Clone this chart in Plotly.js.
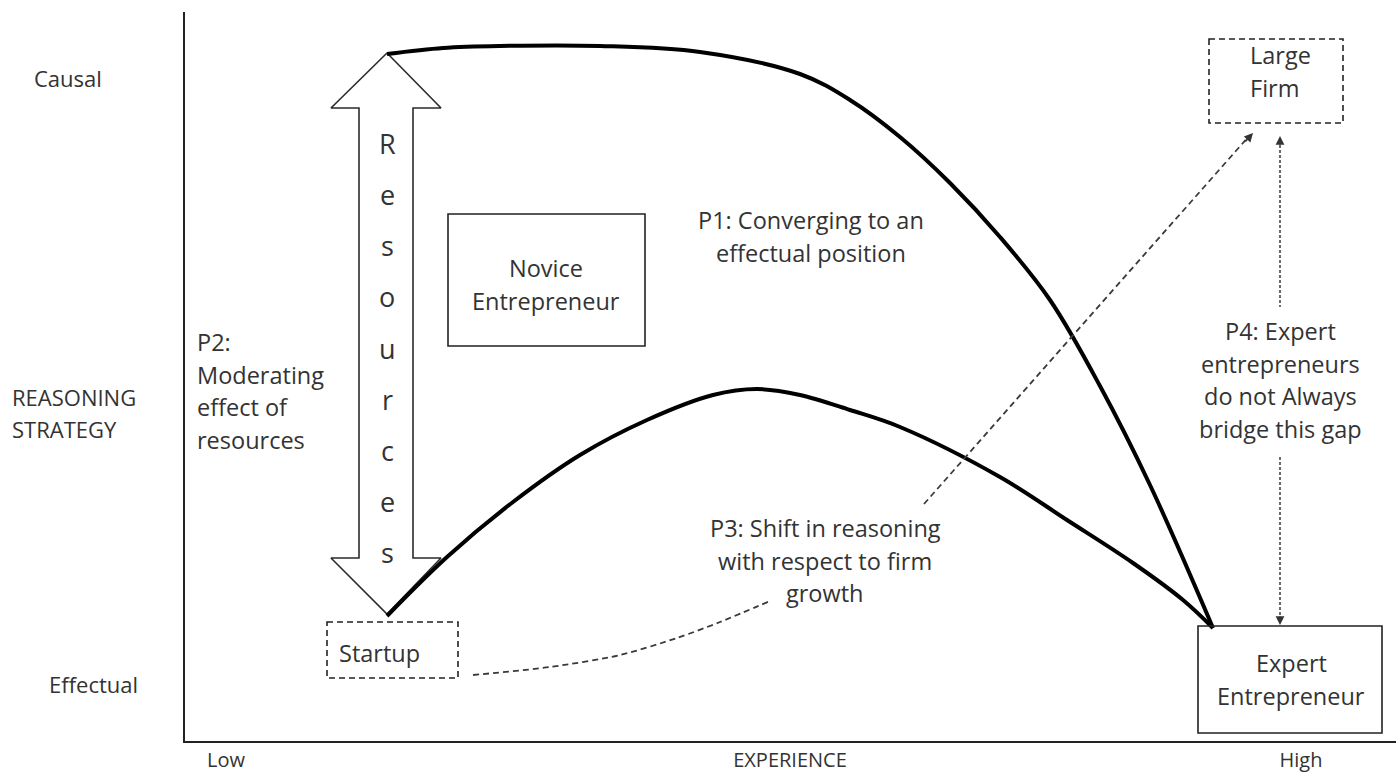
<!DOCTYPE html>
<html>
<head>
<meta charset="utf-8">
<script src="https://cdn.plot.ly/plotly-3.0.1.min.js"></script>
<style>html,body{margin:0;padding:0;background:#fff;}#chart{width:1400px;height:774px;}</style>
</head>
<body>
<div id="chart"></div>
<script>
// ---- data ----
const upperX = [387, 443, 500, 600, 700, 800, 850, 900, 950, 1000, 1050, 1100, 1150, 1213];
const upperY = [54, 48, 46, 46, 52, 74, 100, 137, 183, 237, 300, 386, 485, 628];

const lowerX = [387, 447, 513, 580, 647, 713, 757, 800, 850, 900, 1000, 1067, 1133, 1183, 1213];
const lowerY = [616, 557, 502, 455, 420, 395, 389, 395, 410, 427, 477, 520, 563, 600, 628];

const shiftX = [473, 550, 620, 677, 720, 770, null, 924, 1250];
const shiftY = [675, 667, 655, 638, 622, 601, null, 504, 135];

const gapX = [1280, 1280, null, 1280, 1280];
const gapY = [140, 307, null, 457, 621];

const resourcesX = [387, 441, 413, 413, 441, 387, 331, 359, 359, 331, 387];
const resourcesY = [53, 108, 108, 558, 558, 614, 558, 558, 108, 108, 53];
const resourcesLetters = ['R', 'e', 's', 'o', 'u', 'r', 'c', 'e', 's'];
const resourcesLetterY = [143, 194, 245, 296, 348, 399, 450, 501, 552];

const xTickVals = [226, 790, 1301];
const xTickText = ['Low', 'EXPERIENCE', 'High'];

const FONT = 'Open Sans, sans-serif';
const TXT = '#333333';
const BODY = 23.5;

// ---- traces ----
const traces = [
  {x: resourcesX, y: resourcesY, mode: 'lines', fill: 'toself', fillcolor: '#ffffff',
   line: {color: '#2b2b2b', width: 1.6}, hoverinfo: 'skip'},
  {x: upperX, y: upperY, mode: 'lines', line: {color: '#000', width: 4, shape: 'spline', smoothing: 1}, hoverinfo: 'skip'},
  {x: lowerX, y: lowerY, mode: 'lines', line: {color: '#000', width: 4, shape: 'spline', smoothing: 1}, hoverinfo: 'skip'},
  {x: shiftX, y: shiftY, mode: 'lines', connectgaps: false,
   line: {color: '#3a3a3a', width: 1.8, dash: '6px,4px', shape: 'spline', smoothing: 0.8}, hoverinfo: 'skip'},
  {x: gapX, y: gapY, mode: 'lines', connectgaps: false,
   line: {color: '#3a3a3a', width: 1.5, dash: '3px,2px'}, hoverinfo: 'skip'}
];

// ---- annotations ----
const ann = [];
function addLines(lines, x, y0, step, opts) {
  lines.forEach((t, i) => {
    ann.push(Object.assign({
      text: t, x: x, y: y0 + i * step, xref: 'x', yref: 'y', showarrow: false,
      xanchor: 'center', yanchor: 'middle', font: {family: FONT, size: BODY, color: TXT}
    }, opts || {}));
  });
}
addLines(['P1: Converging to an', 'effectual position'], 811, 220, 32.5);
addLines(['P2:', 'Moderating', 'effect of', 'resources'], 195, 342, 32.5, {xanchor: 'left'});
addLines(['P3: Shift in reasoning', 'with respect to firm', 'growth'], 825, 528, 32.5);
addLines(['P4: Expert', 'entrepreneurs', 'do not Always', 'bridge this gap'], 1280, 331, 32.5);
addLines(['Novice', 'Entrepreneur'], 546, 268, 32.5);
addLines(['Large', 'Firm'], 1248, 55, 33, {xanchor: 'left'});
addLines(['Expert', 'Entrepreneur'], 1291, 663, 32.5);
addLines(['Startup'], 337, 653, 32, {xanchor: 'left'});
resourcesLetters.forEach((c, i) => {
  ann.push({text: c, x: 387, y: resourcesLetterY[i], xref: 'x', yref: 'y', showarrow: false,
    xanchor: 'center', yanchor: 'middle', font: {family: FONT, size: 27, color: TXT}});
});

// y-axis category labels (left of the axis)
const px = v => (v - 185) / 1211;
const yl = {family: FONT, size: 22, color: TXT};
ann.push({text: 'Causal', x: px(68), y: 78, xref: 'paper', yref: 'y', showarrow: false, xanchor: 'center', yanchor: 'middle', font: yl});
ann.push({text: 'REASONING', x: px(10), y: 397, xref: 'paper', yref: 'y', showarrow: false, xanchor: 'left', yanchor: 'middle', font: yl});
ann.push({text: 'STRATEGY', x: px(10), y: 429, xref: 'paper', yref: 'y', showarrow: false, xanchor: 'left', yanchor: 'middle', font: yl});
ann.push({text: 'Effectual', x: px(93), y: 684, xref: 'paper', yref: 'y', showarrow: false, xanchor: 'center', yanchor: 'middle', font: yl});

// arrowheads
const head = (x, y, ax, ay) => ({x, y, ax, ay, xref: 'x', yref: 'y', axref: 'x', ayref: 'y', text: '',
  showarrow: true, arrowhead: 2, arrowsize: 1.1, arrowwidth: 1.6, arrowcolor: '#333'});
ann.push(head(1253, 133, 1244, 143));
ann.push(head(1280, 136, 1280, 146));
ann.push(head(1280, 625, 1280, 615));

// ---- shapes (boxes) ----
const solid = {color: '#222', width: 1.6};
const dashed = {color: '#222', width: 1.6, dash: '6px,4px'};
const shapes = [
  {type: 'rect', xref: 'x', yref: 'y', x0: 448, x1: 645, y0: 214, y1: 346, line: solid},
  {type: 'rect', xref: 'x', yref: 'y', x0: 327, x1: 458, y0: 622, y1: 678, line: dashed},
  {type: 'rect', xref: 'x', yref: 'y', x0: 1209, x1: 1343, y0: 39, y1: 123, line: dashed},
  {type: 'rect', xref: 'x', yref: 'y', x0: 1198, x1: 1382, y0: 626, y1: 733, line: solid}
];

const layout = {
  width: 1400, height: 774,
  margin: {l: 185, r: 4, t: 12, b: 33},
  paper_bgcolor: '#fff', plot_bgcolor: '#fff',
  showlegend: false,
  font: {family: FONT, color: TXT},
  xaxis: {range: [185, 1396], showgrid: false, zeroline: false, showline: true, linecolor: '#222', linewidth: 1.6,
          tickvals: xTickVals, ticktext: xTickText, ticks: '', tickfont: {family: FONT, size: 20, color: TXT}, fixedrange: true},
  yaxis: {range: [741, 12], showgrid: false, zeroline: false, showline: true, linecolor: '#222', linewidth: 1.6,
          showticklabels: false, ticks: '', fixedrange: true},
  shapes: shapes,
  annotations: ann
};

Plotly.newPlot('chart', traces, layout, {displayModeBar: false, staticPlot: true});
</script>
</body>
</html>
